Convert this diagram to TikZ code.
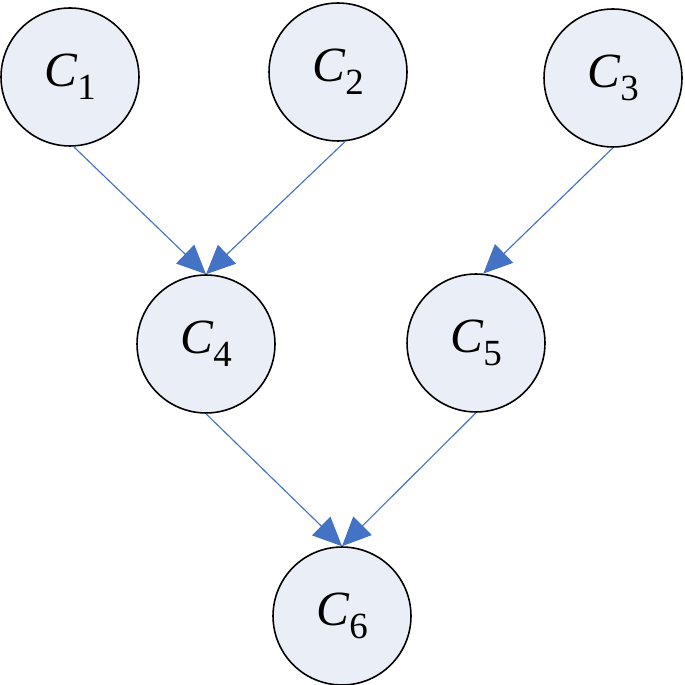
\documentclass[tikz,border=0pt]{standalone}
\usepackage{fontspec}
\setmainfont{Liberation Serif}
\usetikzlibrary{arrows.meta}
\definecolor{cfill}{RGB}{233,238,247}
\definecolor{cline}{RGB}{68,114,196}
\newcommand{\cname}[1]{\textit{C}\raisebox{-0.27em}{\fontsize{21}{22}\selectfont #1}}
\tikzset{
  cnode/.style={circle, draw=black, line width=0.9pt, fill=cfill, minimum size=2.76cm, inner sep=0pt, font=\fontsize{28}{30}\selectfont},
  carrow/.style={draw=cline, line width=0.65pt, -{Triangle[length=0.58cm,width=0.52cm]}}
}

\begin{document}
\begin{tikzpicture}[x=0.02cm,y=-0.02cm]
  \useasboundingbox (0,0) rectangle (685,685);
  \node[cnode] (c1) at (70,77) {\cname{1}};
  \node[cnode] (c2) at (338,72) {\cname{2}};
  \node[cnode] (c3) at (613,78) {\cname{3}};
  \node[cnode] (c4) at (206,344) {\cname{4}};
  \node[cnode] (c5) at (476,343) {\cname{5}};
  \node[cnode] (c6) at (342,616) {\cname{6}};
  \draw[carrow] (c1.-87) -- (c4.north);
  \draw[carrow] (c2.-84) -- (c4.north);
  \draw[carrow] (c3.south) -- (c5.84);
  \draw[carrow] (c4.south) -- (c6.north);
  \draw[carrow] (c5.south) -- (c6.north);
\end{tikzpicture}
\end{document}
